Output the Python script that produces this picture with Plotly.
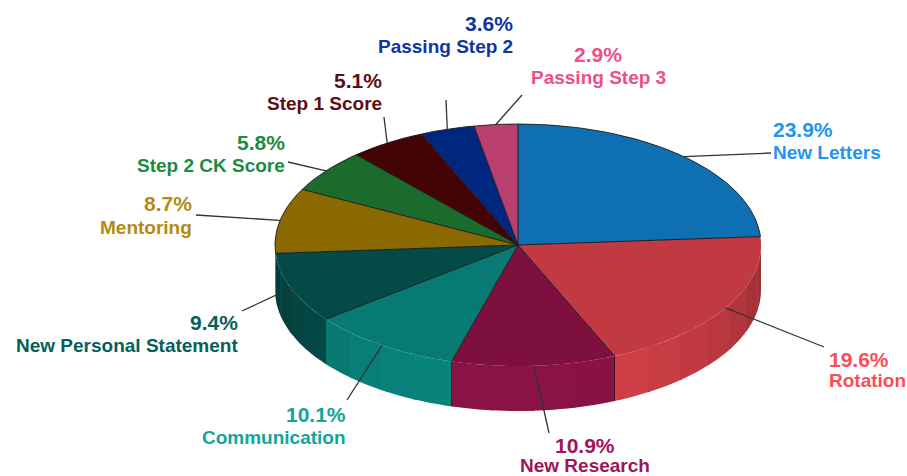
import math
import plotly.graph_objects as go

# Slice data, clockwise from twelve o'clock
labels = ["New Letters", "Rotation", "New Research", "Communication", "New Personal Statement",
          "Mentoring", "Step 2 CK Score", "Step 1 Score", "Passing Step 2", "Passing Step 3"]
shares = [23.9, 19.6, 10.9, 10.1, 9.4, 8.7, 5.8, 5.1, 3.6, 2.9]
top_colors = ["#0f6fb3", "#c13a42", "#7e103f", "#077a73", "#044a47",
              "#8a6a00", "#1b6b2d", "#420404", "#00277f", "#b83f6e"]
text_colors = ["#1f97ee", "#fb4d55", "#a01558", "#12a598", "#05605a",
               "#b58a10", "#1d8a3f", "#5c1014", "#1035a0", "#ee4f8c"]

# Ellipse geometry of the tilted disc, in page pixels
CX, CY, RX, RY, DEPTH = 518, 245, 243, 121, 45

# Per-label placement: text x, anchor, value y, name y, leader end
placement = [
    (771, "left", 129, 152, (771, 153)),
    (827, "left", 359, 380, (824, 347)),
    (585, "center", 445, 465, (549, 433)),
    (348, "right", 414, 437, (347, 400)),
    (240, "right", 322, 345, (242, 311)),
    (194, "right", 203, 227, (196, 215)),
    (287, "right", 142, 165, (288, 162)),
    (384, "right", 80, 103, (384, 117)),
    (515, "right", 23, 46, (446, 100)),
    (598, "center", 54, 77, (522, 95)),
]


def rim(theta, drop=0):
    rad = math.radians(theta)
    return CX + RX * math.sin(rad), CY - RY * math.cos(rad) + drop


def arc(a, b, step=1.5):
    n = max(2, int(abs(b - a) / step) + 1)
    return [a + (b - a) * i / (n - 1) for i in range(n)]


def shade(hex_color, factor):
    r, g, b = (int(hex_color[i:i + 2], 16) for i in (1, 3, 5))
    return "rgb(%d,%d,%d)" % tuple(min(255, round(c * factor)) for c in (r, g, b))


def light(theta):
    # Front of the wall catches the most light
    return 0.78 + 0.32 * math.cos(math.radians(theta - 180))


edges = [0]
for s in shares:
    edges.append(edges[-1] + s / sum(shares) * 360)

fig = go.Figure()


def polygon(points, color):
    fig.add_trace(go.Scatter(
        x=[p[0] for p in points], y=[p[1] for p in points],
        mode="none", fill="toself", fillcolor=color,
        hoverinfo="skip", showlegend=False))


def stroke(points, color="#1c1c1c", width=1.0):
    fig.add_trace(go.Scatter(
        x=[p[0] for p in points], y=[p[1] for p in points],
        mode="lines", line=dict(color=color, width=width),
        hoverinfo="skip", showlegend=False))


# Side wall: stepped bands along the visible front half, each overlapping the next
BAND = 9
for i, color in enumerate(top_colors):
    a, b = max(edges[i], 90), min(edges[i + 1], 270)
    if b <= a:
        continue
    count = max(1, round((b - a) / BAND))
    for k in reversed(range(count)):
        t0 = a + (b - a) * k / count
        t1 = min(b, a + (b - a) * (k + 1) / count + 0.6)
        span = arc(t0, t1)
        pts = [rim(t) for t in span] + [rim(t, DEPTH) for t in reversed(span)]
        polygon(pts, shade(color, light((t0 + t1) / 2)))

# Wall seams on either side of the New Research slice
for i in (2, 3):
    stroke([rim(edges[i]), rim(edges[i], DEPTH)], "#3a0a20", 1.0)

# Top face
for i, color in enumerate(top_colors):
    polygon([(CX, CY)] + [rim(t) for t in arc(edges[i], edges[i + 1])] + [(CX, CY)], color)

# Dark outline: back rim and radial edges
stroke([rim(t) for t in arc(edges[5], 360)], "#1c1c1c", 0.9)
stroke([rim(t) for t in arc(0, edges[1])], "#1c1c1c", 0.9)
for e in edges[:-1]:
    stroke([(CX, CY), rim(e)], "#1c1c1c", 1.0)

# Leader lines and labels
annotations = []
for i, (name, share, tc) in enumerate(zip(labels, shares, text_colors)):
    x, anchor, vy, ny, end = placement[i]
    stroke([rim((edges[i] + edges[i + 1]) / 2), end], "#333333", 1.3)
    annotations.append(dict(x=x, y=vy, text=f"{share}%", xanchor=anchor, yanchor="middle",
                            showarrow=False, font=dict(size=21, color=tc,
                                                       family="Liberation Sans", weight="bold")))
    annotations.append(dict(x=x, y=ny, text=name, xanchor=anchor, yanchor="middle",
                            showarrow=False, font=dict(size=19, color=tc,
                                                       family="Liberation Sans", weight="bold")))

fig.update_layout(
    width=907, height=476, autosize=False,
    margin=dict(l=0, r=0, t=0, b=0),
    paper_bgcolor="white", plot_bgcolor="white",
    xaxis=dict(range=[0, 907], visible=False, fixedrange=True),
    yaxis=dict(range=[476, 0], visible=False, fixedrange=True),
    annotations=annotations,
    showlegend=False,
)
fig.write_html("out.html", config=dict(displayModeBar=False))
